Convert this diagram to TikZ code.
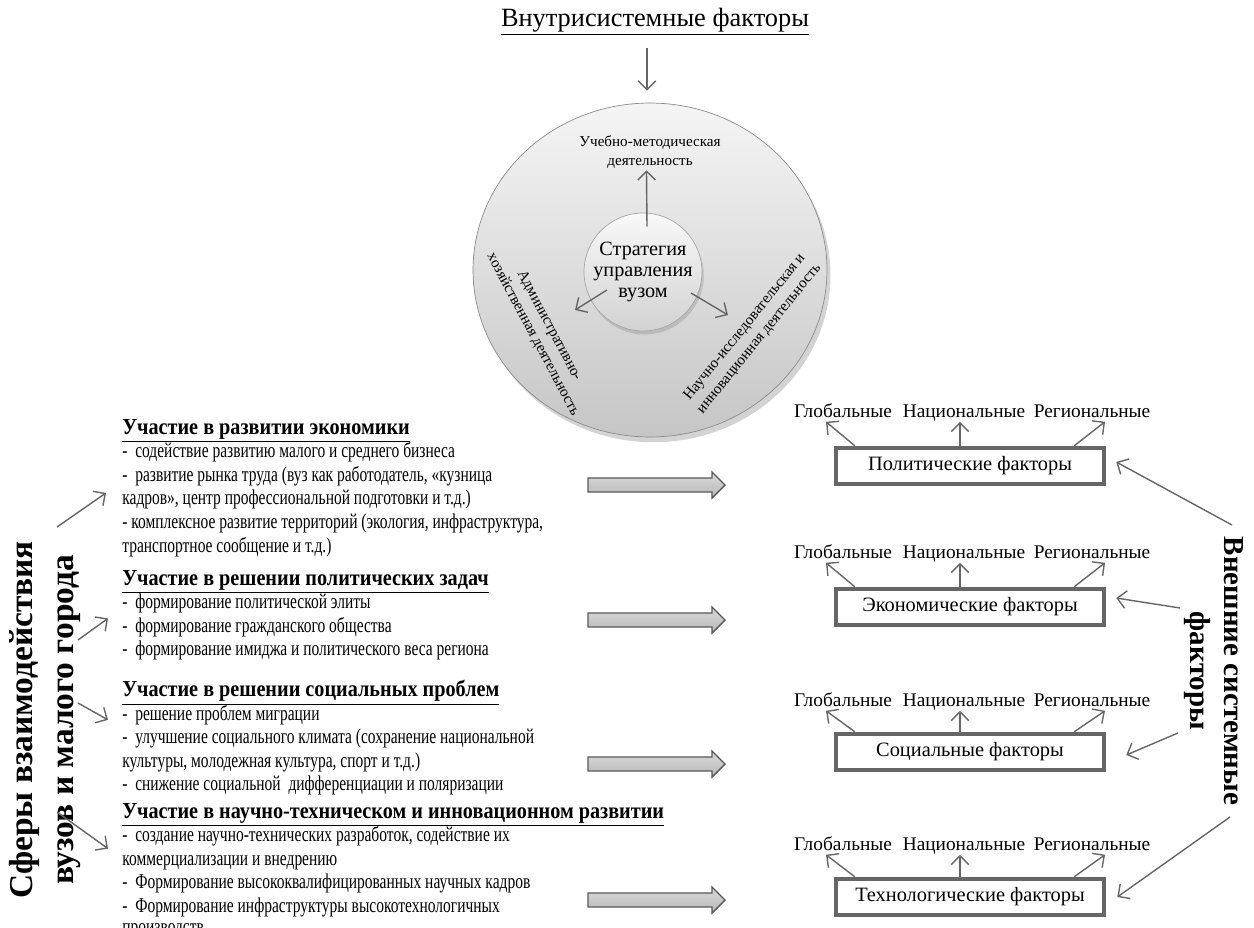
\documentclass[tikz,border=0pt]{standalone}
\usepackage{fontspec}
\setmainfont{Liberation Serif}
\newfontfamily\narrowfont{Liberation Serif}[FakeStretch=0.735]
\newfontfamily\headfont{Liberation Serif}[FakeStretch=0.885]
\usetikzlibrary{arrows.meta,shapes,positioning,shadows}

\begin{document}
\begin{tikzpicture}[x=0.02cm,y=-0.02cm,
  thinarrow/.style={draw=black!60,line width=0.8pt,-{Straight Barb[length=5pt,width=10pt]}},
  bodytext/.style={anchor=north west,align=left,inner sep=0pt,font=\narrowfont\fontsize{12}{13.4}\selectfont},
  factorbox/.style={draw=black!60,line width=2.6pt,fill=white,minimum width=5.36cm,minimum height=0.72cm,font=\fontsize{11.6}{14}\selectfont},
  level/.style={font=\fontsize{11}{13}\selectfont,inner sep=1pt,text height=1.6ex,text depth=.3ex},
  smalltext/.style={font=\fontsize{8.6}{10.6}\selectfont,align=center,inner sep=1pt},
  fatarrow/.style={single arrow,draw=black!65,top color=gray!30,middle color=gray!6,bottom color=gray!55,minimum height=2.74cm,inner xsep=0pt,inner ysep=3.6pt,single arrow head extend=3.4pt,single arrow head indent=0pt,line width=0.8pt},
  bigtitle/.style={font=\bfseries\fontsize{19}{23}\selectfont,align=center,inner sep=0pt}
]
  % page frame, same size as the reference
  \useasboundingbox (0,0) rectangle (1254,927);

  % title of the internal part
  \node[font=\fontsize{15}{18}\selectfont] (title) at (655,22) {\underline{Внутрисистемные факторы}};

  % big disc and the strategy disc inside it
  \node[ellipse,draw=black!45,top color=gray!8,bottom color=gray!45,minimum width=7.08cm,minimum height=6.68cm,drop shadow={shadow xshift=2pt,shadow yshift=-3pt,opacity=.35}] (outer) at (650,270) {};
  \node[circle,draw=black!35,top color=gray!5,bottom color=gray!35,minimum size=2.36cm,align=center,inner sep=0pt,font=\fontsize{11.5}{12.2}\selectfont,drop shadow={shadow xshift=1pt,shadow yshift=-2pt,opacity=.3}] (inner) at (643,272) {Стратегия\\управления\\вузом};
  \draw[thinarrow] ([shift={(-8,6)}]title.south) -- ([shift={(-3,-12)}]outer.north);

  % the three activities
  \node[smalltext] (uchm) at (650,152) {Учебно-методическая\\деятельность};
  \node[smalltext,rotate=-62] (admin) at (541,330) {Административно-\\хозяйственная деятельность};
  \node[smalltext,rotate=51] (sci) at (752,333) {Научно-исследовательская и\\инновационная деятельность};
  \draw[thinarrow] ([shift={(4,14)}]inner.north) -- ([xshift=-2pt]uchm.south);
  \draw[thinarrow] ([shift={(-36,18)}]inner.center) -- ++(-32,20);
  \draw[thinarrow] ([shift={(48,21)}]inner.center) -- ++(37,22);

  % spheres of interaction, left column
  \node[bigtitle,rotate=90] (spheres) at (45,720) {Сферы взаимодействия\\вузов и малого города};

  \node[bodytext] (econ) at (122,419) {{\headfont\bfseries\fontsize{13}{13.4}\selectfont\underline{Участие в развитии экономики}}\\
    -~ содействие развитию малого и среднего бизнеса\\
    -~ развитие рынка труда (вуз как работодатель, «кузница\\
    кадров», центр профессиональной подготовки и т.д.)\\
    - комплексное развитие территорий (экология, инфраструктура,\\
    транспортное сообщение и т.д.)};
  \node[bodytext] (polit) at (122,570) {{\headfont\bfseries\fontsize{13}{13.4}\selectfont\underline{Участие в решении политических задач}}\\
    -~ формирование политической элиты\\
    -~ формирование гражданского общества\\
    -~ формирование имиджа и политического веса региона};
  \node[bodytext] (soc) at (122,680) {{\headfont\bfseries\fontsize{13}{13.4}\selectfont\underline{Участие в решении социальных проблем}}\\
    -~ решение проблем миграции\\
    -~ улучшение социального климата (сохранение национальной\\
    культуры, молодежная культура, спорт и т.д.)\\
    -~ снижение социальной~ дифференциации и поляризации};
  \node[bodytext] (tech) at (122,803) {{\headfont\bfseries\fontsize{13}{13.4}\selectfont\underline{Участие в научно-техническом и инновационном развитии}}\\
    -~ создание научно-технических разработок, содействие их\\
    коммерциализации и внедрению\\
    -~ Формирование высококвалифицированных научных кадров\\
    -~ Формирование инфраструктуры высокотехнологичных\\[-1.5pt]
    производств};

  % arrows from the column title to the spheres
  \coordinate (s1) at (57,527);
  \coordinate (s2) at (78,640);
  \coordinate (s3) at (78,703);
  \coordinate (s4) at (57,812);
  \draw[thinarrow] (s1) -- ([shift={(-16,5)}]econ.west);
  \draw[thinarrow] (s2) -- ([shift={(-14,3)}]polit.west);
  \draw[thinarrow] (s3) -- ([shift={(-14,-18)}]soc.west);
  \draw[thinarrow] (s4) -- ([shift={(-14,-22)}]tech.west);

  % fat arrows towards the external factors
  \node[fatarrow] (fa1) at (653,485) {};
  \node[fatarrow] (fa2) at (653,620) {};
  \node[fatarrow] (fa3) at (653,764) {};
  \node[fatarrow] (fa4) at (653,900) {};

  % external factors
  \node[factorbox] (pol) at (970,466) {Политические факторы};
  \node[factorbox] (eco) at (970,607) {Экономические факторы};
  \node[factorbox] (socf) at (970,752) {Социальные факторы};
  \node[factorbox] (techf) at (970,897) {Технологические факторы};

  % levels above every box
  \node[level] (g1) at (843,412) {Глобальные};
  \node[level] (n1) at (964,412) {Национальные};
  \node[level] (r1) at (1092,412) {Региональные};
  \node[level] (g2) at (843,553) {Глобальные};
  \node[level] (n2) at (964,553) {Национальные};
  \node[level] (r2) at (1092,553) {Региональные};
  \node[level] (g3) at (843,701) {Глобальные};
  \node[level] (n3) at (964,701) {Национальные};
  \node[level] (r3) at (1092,701) {Региональные};
  \node[level] (g4) at (843,845) {Глобальные};
  \node[level] (n4) at (964,845) {Национальные};
  \node[level] (r4) at (1092,845) {Региональные};

  \draw[thinarrow] ([xshift=21*0.02cm]pol.north west) -- ([xshift=-17*0.02cm]g1.south);
  \draw[thinarrow] ([xshift=-4*0.02cm]pol.north -| n1) -- ([xshift=-4*0.02cm]n1.south);
  \draw[thinarrow] ([xshift=-32*0.02cm]pol.north east) -- ([xshift=13*0.02cm]r1.south);
  \draw[thinarrow] ([xshift=21*0.02cm]eco.north west) -- ([xshift=-17*0.02cm]g2.south);
  \draw[thinarrow] ([xshift=-4*0.02cm]eco.north -| n2) -- ([xshift=-4*0.02cm]n2.south);
  \draw[thinarrow] ([xshift=-32*0.02cm]eco.north east) -- ([xshift=13*0.02cm]r2.south);
  \draw[thinarrow] ([xshift=21*0.02cm]socf.north west) -- ([xshift=-17*0.02cm]g3.south);
  \draw[thinarrow] ([xshift=-4*0.02cm]socf.north -| n3) -- ([xshift=-4*0.02cm]n3.south);
  \draw[thinarrow] ([xshift=-32*0.02cm]socf.north east) -- ([xshift=13*0.02cm]r3.south);
  \draw[thinarrow] ([xshift=21*0.02cm]techf.north west) -- ([xshift=-17*0.02cm]g4.south);
  \draw[thinarrow] ([xshift=-4*0.02cm]techf.north -| n4) -- ([xshift=-4*0.02cm]n4.south);
  \draw[thinarrow] ([xshift=-32*0.02cm]techf.north east) -- ([xshift=13*0.02cm]r4.south);

  % external systemic factors, right column
  \node[bigtitle,rotate=-90,font=\bfseries\fontsize{16.5}{19.5}\selectfont] (external) at (1214,671) {Внешние системные\\факторы};
  \coordinate (e1) at (1232,525);
  \coordinate (e2) at (1180,608);
  \coordinate (e3) at (1178,733);
  \coordinate (e4) at (1230,817);
  \draw[thinarrow] (e1) -- ([shift={(10,-4)}]pol.east);
  \draw[thinarrow] (e2) -- ([shift={(10,-9)}]eco.east);
  \draw[thinarrow] (e3) -- ([shift={(20,3)}]socf.east);
  \draw[thinarrow] (e4) -- ([shift={(11,0)}]techf.east);
\end{tikzpicture}
\end{document}
